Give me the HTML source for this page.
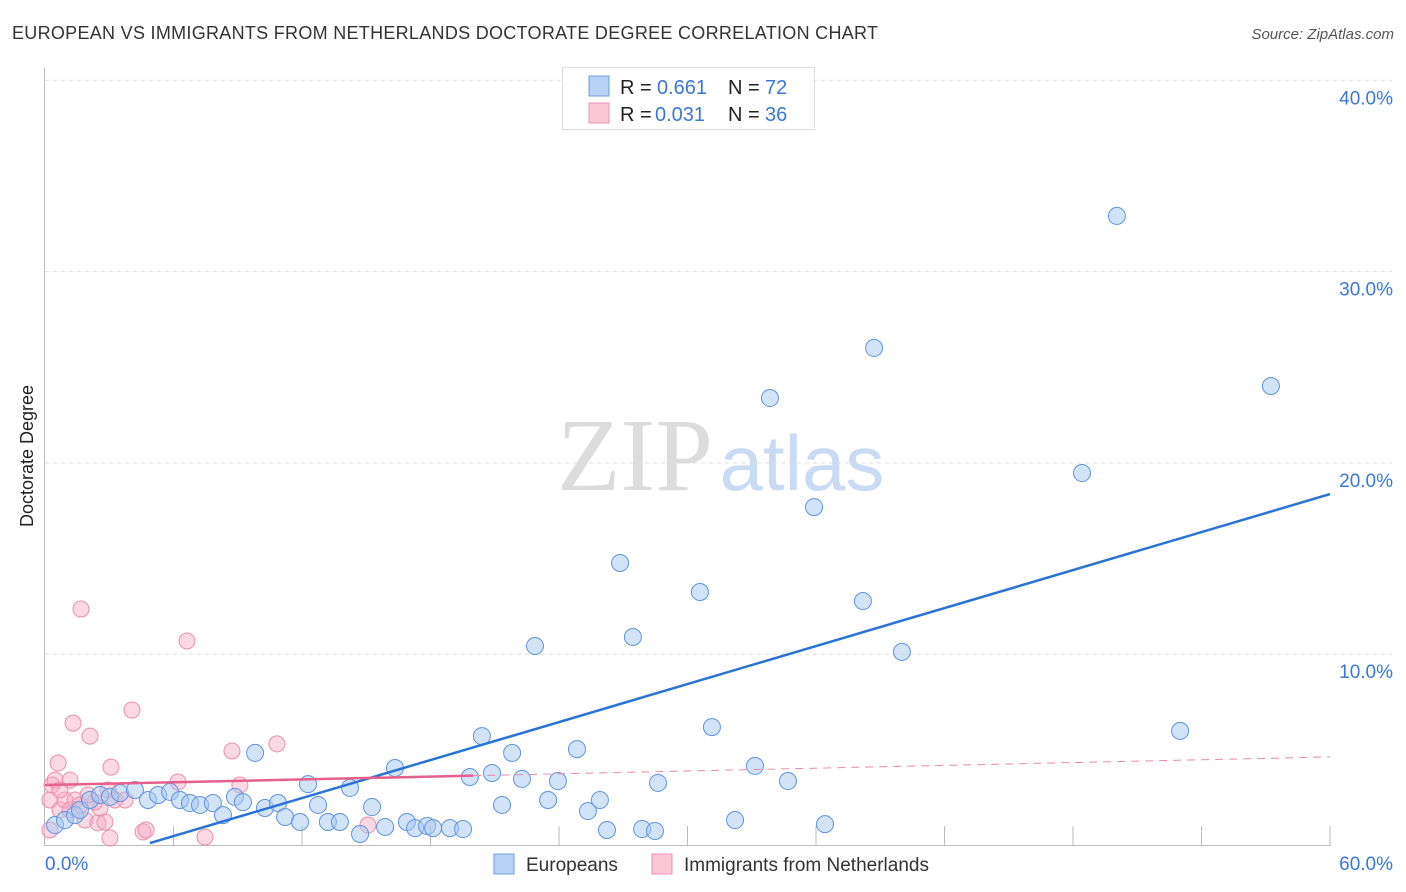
<!DOCTYPE html>
<html><head><meta charset="utf-8">
<style>
body{margin:0;background:#fff;font-family:"Liberation Sans",sans-serif;}
#wrap{position:relative;width:1406px;height:892px;overflow:hidden;}
</style></head>
<body>
<div id="wrap">
<svg id="chart" width="1406" height="892" xmlns="http://www.w3.org/2000/svg">
<text x="12" y="39" font-size="18" fill="#333" textLength="866" lengthAdjust="spacing">EUROPEAN VS IMMIGRANTS FROM NETHERLANDS DOCTORATE DEGREE CORRELATION CHART</text>
<text x="1394" y="39" font-size="15" fill="#555" font-style="italic" text-anchor="end">Source: ZipAtlas.com</text>
<text x="33" y="456" font-size="18" fill="#222" text-anchor="middle" transform="rotate(-90 33 456)">Doctorate Degree</text>
<g>
<text x="635" y="490" font-size="104" fill="#dcdcdc" font-family="Liberation Serif,serif" text-anchor="middle">ZIP</text>
<text x="802" y="490" font-size="78" fill="#c9dbf3" text-anchor="middle">atlas</text>
</g>
<g id="grid"></g>
<g id="marks"></g>
<g>
<rect x="562.5" y="67.5" width="252" height="62" fill="#fff" stroke="#ddd"/>
<rect x="589" y="76" width="20" height="20" fill="#b8d2f5" stroke="#6d9de0"/>
<rect x="589" y="103" width="20" height="20" fill="#f9c6d6" stroke="#eb93ae"/>
<g font-size="20">
<text x="620" y="94" fill="#222">R =</text><text x="657" y="94" fill="#3a78d6">0.661</text>
<text x="728" y="94" fill="#222">N =</text><text x="765" y="94" fill="#3a78d6">72</text>
</g>
<g font-size="20">
<text x="620" y="121" fill="#222">R =</text><text x="655" y="121" fill="#3a78d6">0.031</text>
<text x="728" y="121" fill="#222">N =</text><text x="765" y="121" fill="#3a78d6">36</text>
</g>
</g>
<g>
<rect x="494" y="854" width="20" height="20" fill="#b8d2f5" stroke="#6d9de0"/>
<text x="526" y="871" font-size="19" fill="#333">Europeans</text>
<rect x="652" y="854" width="20" height="20" fill="#f9c6d6" stroke="#eb93ae"/>
<text x="684" y="871" font-size="19" fill="#333">Immigrants from Netherlands</text>
</g>
</svg>
</div>
<script>
const xTicks=[0,6,12,18,24,30,36,42,48,54,60];
const yTicks=[10,20,30,40];
const bluePx=[[55,825],[65,820],[75,815],[80,810],[90,800],[100,795],[110,797],[120,793],[135,790],[148,800],[158,795],[170,792],[180,800],[190,803],[200,805],[213,803],[223,815],[235,797],[243,802],[255,753],[265,808],[278,803],[285,817],[300,822],[308,784],[318,805],[328,822],[340,822],[350,788],[360,834],[372,807],[385,827],[395,768],[407,822],[415,828],[427,826],[433,828],[450,828],[463,829],[470,777],[482,736],[492,773],[502,805],[512,753],[522,779],[535,646],[548,800],[558,781],[577,749],[588,811],[600,800],[607,830],[620,563],[633,637],[642,829],[655,831],[658,783],[700,592],[712,727],[735,820],[755,766],[770,398],[788,781],[814,507],[825,824],[863,601],[874,348],[902,652],[1082,473],[1117,216],[1180,731],[1271,386]];
const pinkPx=[[50,800],[52,785],[55,780],[58,763],[60,810],[65,800],[70,810],[73,723],[75,800],[80,805],[81,609],[85,820],[90,736],[95,802],[98,823],[105,822],[108,790],[111,767],[115,800],[125,800],[132,710],[143,832],[146,830],[178,782],[187,641],[205,837],[232,751],[240,785],[277,744],[368,825],[110,838],[70,780],[88,795],[100,808],[60,790],[50,830]];
const blueX=bluePx.map(p=>+((p[0]-45)/21.417).toFixed(2));
const blueY=bluePx.map(p=>+((845.5-p[1])/19.13).toFixed(2));
const pinkX=pinkPx.map(p=>+((p[0]-45)/21.417).toFixed(2));
const pinkY=pinkPx.map(p=>+((845.5-p[1])/19.13).toFixed(2));
const blueLine=[[4.9,0.13],[60,18.37]];
const pinkLine=[[0,3.16],[20,3.65],[60,4.63]];

const X=v=>45+v*21.417, Y=v=>845.5-v*19.13;
const NS="http://www.w3.org/2000/svg";
function mk(t,a,p){const e=document.createElementNS(NS,t);for(const k in a)e.setAttribute(k,a[k]);p.appendChild(e);return e;}
const grid=document.getElementById('grid'), marks=document.getElementById('marks');
yTicks.forEach(t=>{
 const l=mk('line',{x1:45,x2:1392,y1:Y(t),y2:Y(t),stroke:'#ddd','stroke-dasharray':'4 4'},grid);
 
 
 const tx=mk('text',{x:1393,y:Y(t)+24,'font-size':19,fill:'#3a78d6','text-anchor':'end'},grid);
 tx.textContent=t.toFixed(1)+'%';
 
 
});
const ax=mk('line',{x1:44.5,x2:44.5,y1:68,y2:846,stroke:'#bbb'},grid);


const bx=mk('line',{x1:44,x2:1331,y1:845.5,y2:845.5,stroke:'#bbb'},grid);


xTicks.forEach((t,i)=>{
 if(i==0)return;
 const l=mk('line',{x1:X(t),x2:X(t),y1:826,y2:845,stroke:'#bbb'},grid);
 
 
});
[[0,'start',45],[60,'end',1393]].forEach(([t,a,x])=>{
 const tx=mk('text',{x:x,y:870,'font-size':19,fill:'#3a78d6','text-anchor':a},grid);
 tx.textContent=t.toFixed(1)+'%';
 
 
});
pinkX.forEach((x,i)=>{
 const c=mk('circle',{cx:X(x),cy:Y(pinkY[i]),r:8,fill:'rgba(244,170,195,0.45)',stroke:'#e98fac','stroke-width':1},marks);
 
 
});
blueX.forEach((x,i)=>{
 const c=mk('circle',{cx:X(x),cy:Y(blueY[i]),r:8.5,fill:'rgba(168,199,240,0.5)',stroke:'#5f93dd','stroke-width':1},marks);
 
 
});
const bl=mk('line',{x1:X(blueLine[0][0]),y1:Y(blueLine[0][1]),x2:X(blueLine[1][0]),y2:Y(blueLine[1][1]),stroke:'#2a72d8','stroke-width':2.5},marks);


const pl=mk('line',{x1:X(pinkLine[0][0]),y1:Y(pinkLine[0][1]),x2:X(pinkLine[1][0]),y2:Y(pinkLine[1][1]),stroke:'#e5608a','stroke-width':2.5},marks);


const pd=mk('line',{x1:X(pinkLine[1][0]),y1:Y(pinkLine[1][1]),x2:X(pinkLine[2][0]),y2:Y(pinkLine[2][1]),stroke:'#e88aa6','stroke-width':1,'stroke-dasharray':'8 6'},marks);


</script>
</body></html>
